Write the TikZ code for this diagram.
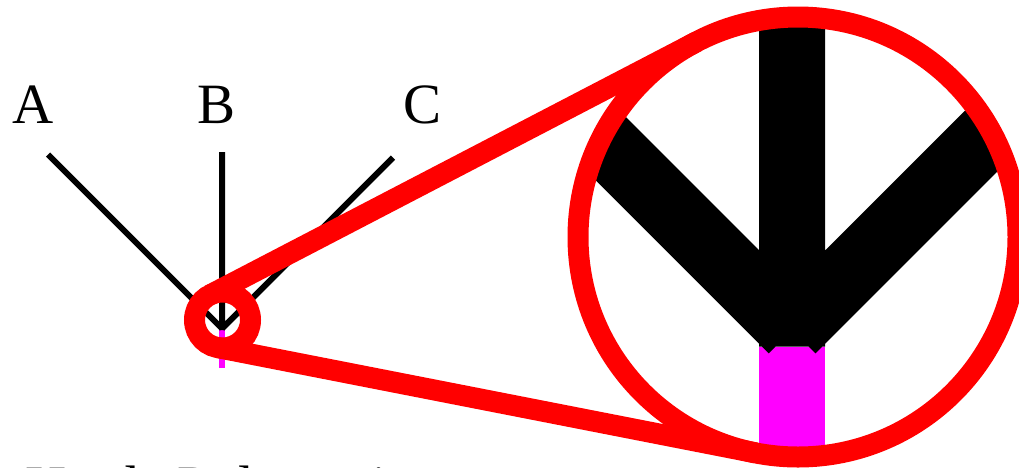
\documentclass[tikz,border=0pt]{standalone}
\usepackage{fontspec}
\setmainfont{Liberation Serif}
\usetikzlibrary{calc}
\definecolor{rootpink}{RGB}{255,0,255}
\definecolor{lensred}{RGB}{255,0,0}

\newcommand\polytree[2]{%
  \coordinate (#1a) at (48,154.5);
  \coordinate (#1b) at (222,152);
  \coordinate (#1c) at (393,157.5);
  \coordinate (#1j) at (222,328.5);
  \coordinate (#1r) at (222,330);
  \coordinate (#1o) at (222,368);
  \draw[rootedge, line width=#2*6pt] (#1r) -- (#1o);
  \draw[branch, line width=#2*6pt] (#1a) -- (#1j) (#1c) -- (#1j) (#1b) -- (#1r);
}

\begin{document}
\begin{tikzpicture}[
x=1pt, y=-1pt,
every node/.style={font=\fontsize{57}{60}\selectfont, inner sep=0pt},
branch/.style={draw=black},
rootedge/.style={draw=rootpink},
lensline/.style={draw=lensred, line width=21pt},
ring/.style={lensline, circle, outer sep=0pt},
]
\useasboundingbox (0,0) rectangle (1019,467);
\clip (0,0) rectangle (1019,467);
\node[anchor=base] (la) at (33,123) {A};
\node[anchor=base] (lb) at (216.5,123) {B};
\node[anchor=base] (lc) at (422.5,123) {C};
\node[anchor=base west] (title) at (25,505) {Hard\hspace{0.68em}Polytomies};
\polytree{s}{1}
\begin{scope}
\clip (798,237) circle[radius=220];
\begin{scope}[shift={(798,237)}, scale=11, shift={(-222.5,-320)}]
\polytree{m}{11}
\end{scope}
\end{scope}
\node[ring, minimum size=56pt] (lens) at (222.5,320) {};
\node[ring, minimum size=440pt] (zoom) at (798,237) {};
\coordinate (hc) at ($(lens)!-0.14583!(zoom)$);
\draw[lensline] (tangent cs:node=lens,point={(hc)},solution=1) -- (tangent cs:node=zoom,point={(hc)},solution=1);
\draw[lensline] (tangent cs:node=lens,point={(hc)},solution=2) -- (tangent cs:node=zoom,point={(hc)},solution=2);
\end{tikzpicture}
\end{document}
